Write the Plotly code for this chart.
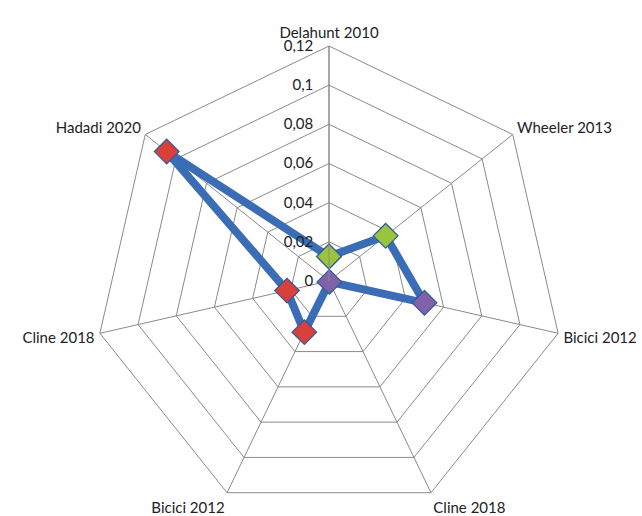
import plotly.graph_objects as go

# Studies around the radar (clockwise from the top)
categories = ["Delahunt 2010", "Wheeler 2013", "Bicici 2012", "Cline 2018",
              "Bicici 2012", "Cline 2018", "Hadadi 2020"]
values = [0.0125, 0.037, 0.050, 0.0005, 0.029, 0.022, 0.106]
point_colors = ["#9BC43E", "#9BC43E", "#8062A8", "#8062A8",
                "#D9403A", "#D9403A", "#D9403A"]

radial_ticks = [0, 0.02, 0.04, 0.06, 0.08, 0.10, 0.12]
radial_labels = ["0", "0,02", "0,04", "0,06", "0,08", "0,1", "0,12"]

# study names repeat, so each spoke gets its own key and the name as tick text
keys = [f"s{i}" for i in range(len(categories))]

# close the polygon back to the first study
theta = keys + keys[:1]
r = values + values[:1]
colors = point_colors + point_colors[:1]

W, H = 642, 516
cx, cy, R = 329, 281, 235

fig = go.Figure()
fig.add_trace(go.Scatterpolar(
    r=r, theta=theta, mode="lines+markers",
    line=dict(color="#3A6DB5", width=8),
    marker=dict(symbol="diamond", size=19, color=colors,
                line=dict(color="#2F5B96", width=1.2)),
    showlegend=False, hoverinfo="skip",
))

grid = "#8A8A8A"
font = "Lato, Calibri, sans-serif"
fig.update_layout(
    width=W, height=H,
    margin=dict(l=0, r=0, t=0, b=0),
    paper_bgcolor="white", plot_bgcolor="white",
    polar=dict(
        domain=dict(x=[(cx - R - 2) / W, (cx + R + 2) / W],
                    y=[max(0, 1 - (cy + R) / H), 1 - (cy - R) / H]),
        bgcolor="white",
        gridshape="linear",
        radialaxis=dict(
            range=[0, 0.12], tickvals=radial_ticks, ticktext=radial_labels,
            angle=90, tickangle=90, side="counterclockwise",
            showline=True, linecolor=grid, linewidth=1,
            gridcolor=grid, gridwidth=1,
            ticks="outside", ticklen=10, tickcolor="rgba(0,0,0,0)",
            tickfont=dict(family=font, size=15, color="#222222"),
        ),
        angularaxis=dict(
            type="category", categoryorder="array", categoryarray=keys,
            rotation=90, direction="clockwise",
            tickmode="array", tickvals=keys, ticktext=categories,
            showline=True, linecolor=grid, linewidth=1,
            gridcolor=grid, gridwidth=1,
            ticks="outside", ticklen=2, tickcolor="rgba(0,0,0,0)",
            tickfont=dict(family=font, size=15, color="#222222"),
        ),
    ),
)

fig.write_html("out.html")
